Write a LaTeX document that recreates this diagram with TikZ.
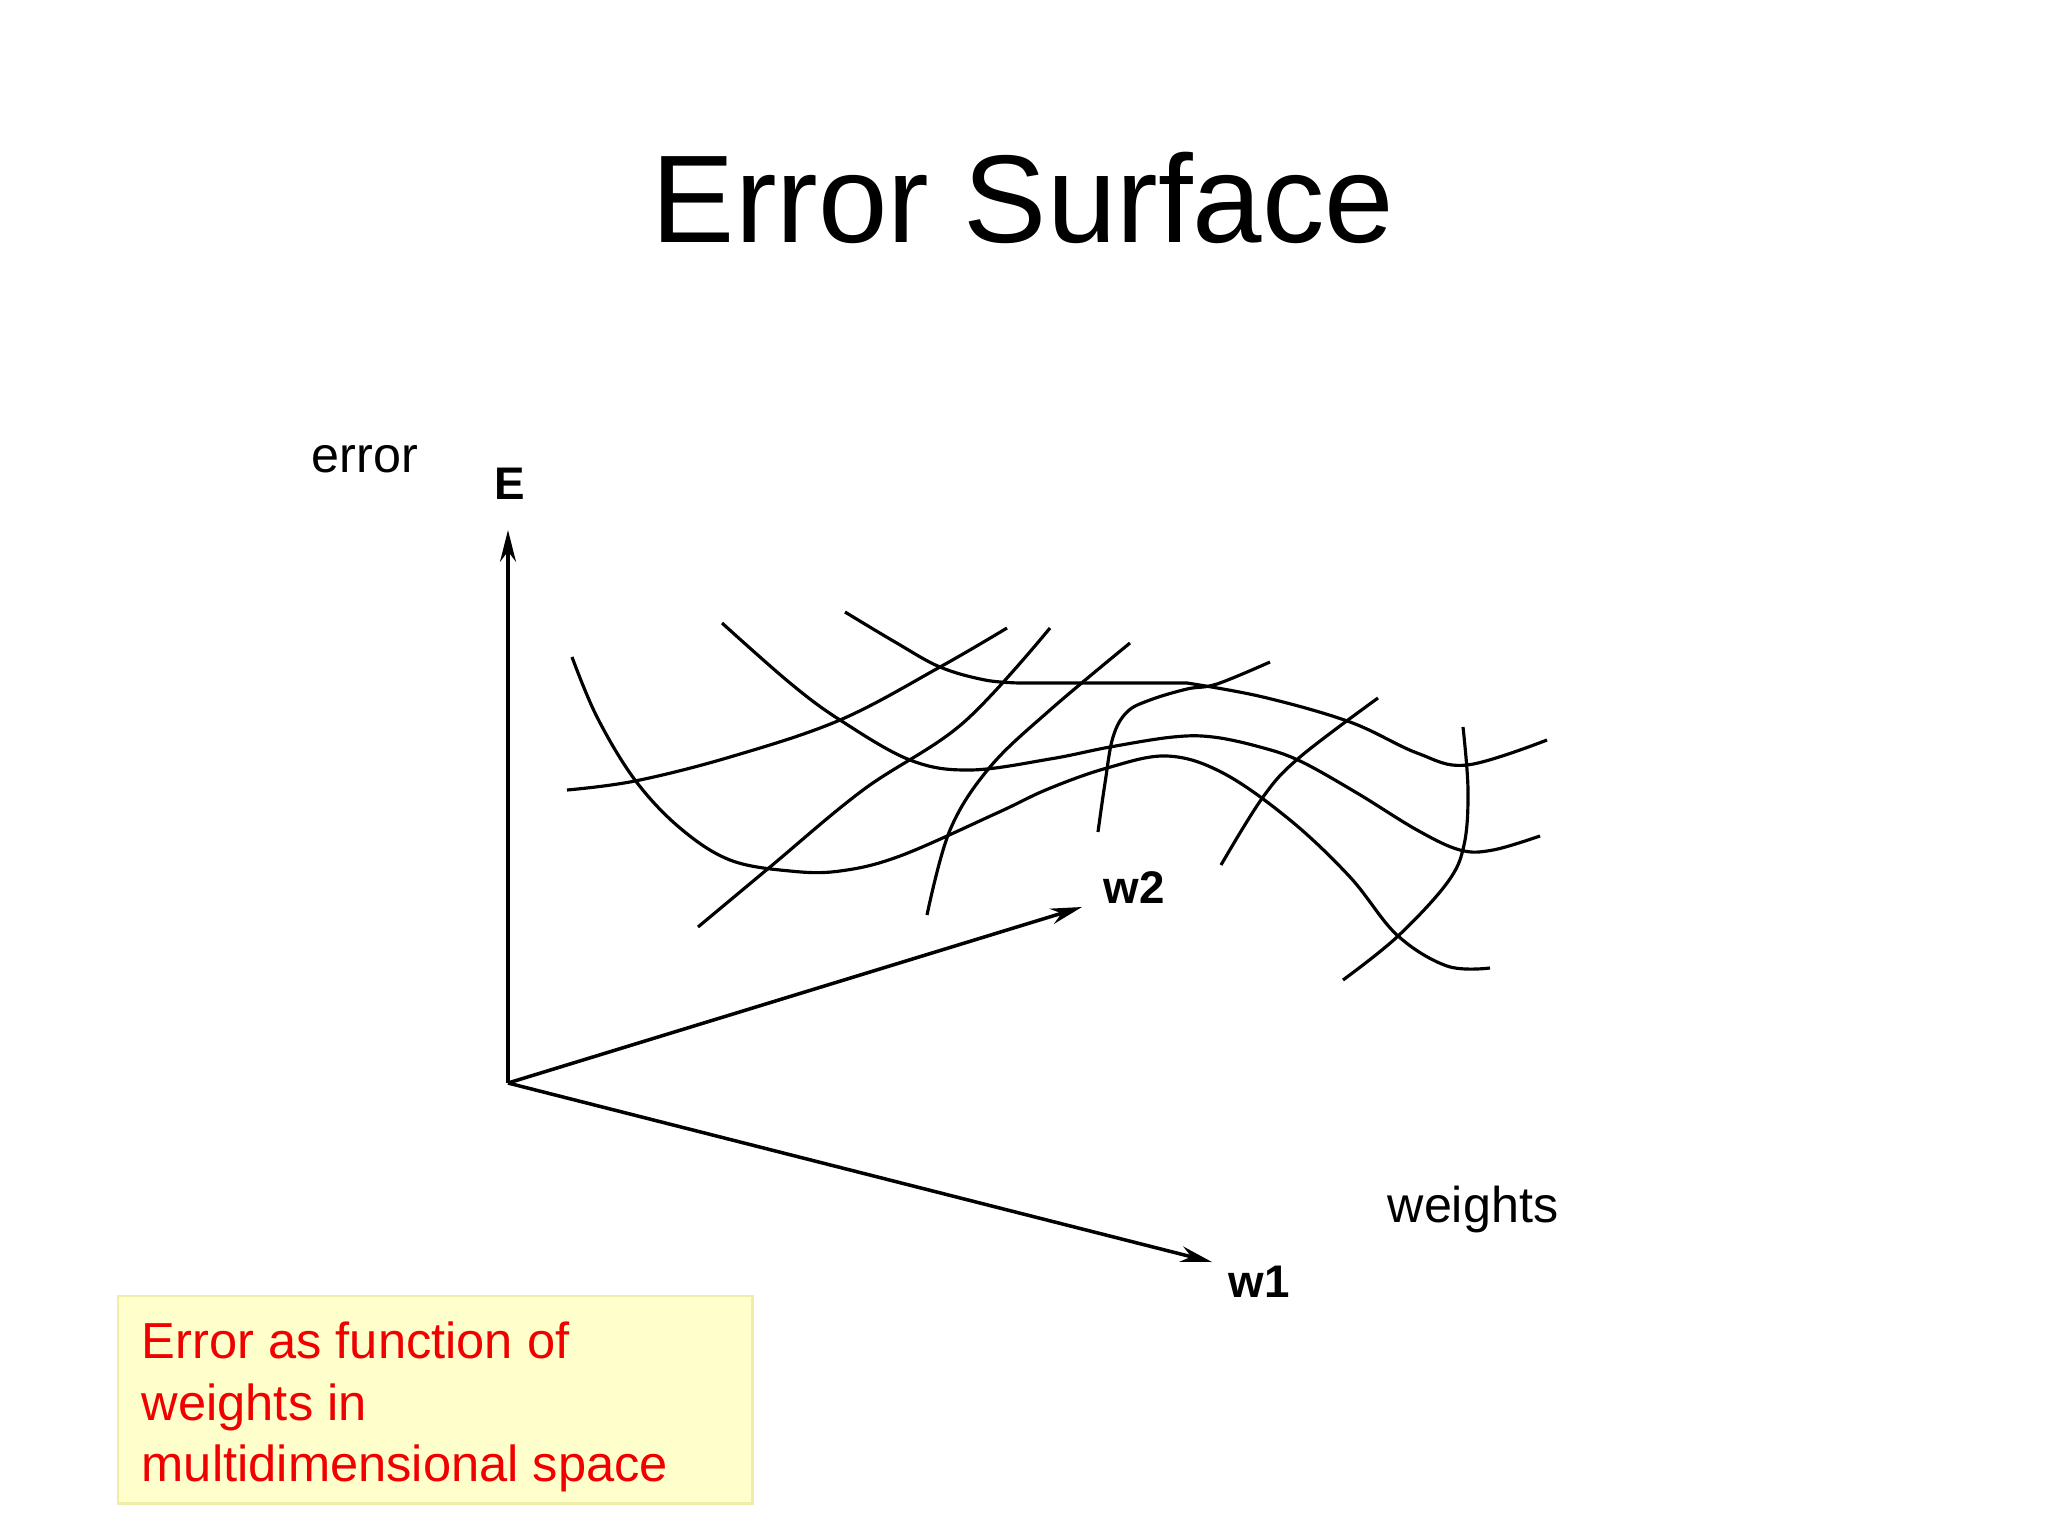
\documentclass[tikz,border=0pt]{standalone}
\usepackage{fontspec}
\setmainfont{Liberation Sans}
\usetikzlibrary{arrows.meta}
\definecolor{boxfill}{HTML}{FFFFCC}
\definecolor{boxline}{HTML}{EEEEA8}
\definecolor{redtext}{HTML}{F00000}
\tikzset{
  surf/.style={line width=0.9pt, black, line join=round},
  axis/.style={line width=1pt, black, -{Stealth[length=9pt,width=4.5pt]}},
  axlabel/.style={font=\fontsize{13}{15}\selectfont\bfseries, anchor=base, inner sep=0pt},
  plain/.style={font=\fontsize{14.3}{17}\selectfont, anchor=base west, inner sep=0pt},
  redline/.style={font=\fontsize{14.4}{17}\selectfont, text=redtext, anchor=base west, inner sep=0pt}
}
\begin{document}
\begin{tikzpicture}[x=0.01cm,y=-0.01cm]
\useasboundingbox[fill=white] (0,0) rectangle (2048,1536);
% title
\node[font=\fontsize{35.5}{40}\selectfont, anchor=base, inner sep=0pt] (title) at (1023,242) {Error Surface};
% labels
\node[plain] (errlbl) at (311,472) {error};
\node[plain] (wlbl) at (1387,1222) {weights};
% axes
\coordinate (O) at (508,1083);
\coordinate (Etip) at (508,530);
\coordinate (w2tip) at (1082,907);
\coordinate (w1tip) at (1212,1262);
\draw[axis, line width=1.2pt] (O) -- (Etip);
\draw[axis] (O) -- (w2tip);
\draw[axis] (O) -- (w1tip);
\node[axlabel] (Elbl) at (510,499) {E};
\node[axlabel] (w2lbl) at (1134,903) {w2};
\node[axlabel] (w1lbl) at (1259,1297) {w1};
% surface curves
% A
\draw[surf] plot[smooth, tension=0.6] coordinates {(572,657) (597,717) (635,780) (680,828) (730,860) (790,871) (840,871) (900,856) (997,813) (1048,789) (1107,768) (1167,756) (1223,773) (1290,820) (1350,877) (1397,935) (1447,966) (1490,968)};
% B
\draw[surf] plot[smooth, tension=0.6] coordinates {(567,790) (635,781) (730,757) (840,720) (940,667) (1007,628)};
% C
\draw[surf] plot[smooth, tension=0.6] coordinates {(722,623) (790,683) (840,720) (910,760) (970,770) (1050,759) (1110,747) (1173,737) (1213,737) (1260,747) (1300,761) (1357,793) (1417,830) (1460,850) (1493,850) (1540,836)};
% D
\draw[surf] plot[smooth, tension=0.6] coordinates {(845,612) (895,642) (940,667) (985,680) (1020,683)} -- (1187,683);
\draw[surf] plot[smooth, tension=0.6] coordinates {(1187,683) (1263,697) (1350,722) (1417,753) (1467,765) (1547,740)};
% E
\draw[surf] plot[smooth, tension=0.6] coordinates {(1270,662) (1217,684) (1187,689) (1150,700) (1127,712) (1113,737) (1105,783) (1098,832)};
% F
\draw[surf] plot[smooth, tension=0.6] coordinates {(1130,643) (1050,710) (990,767) (950,830) (927,915)};
% H1
\draw[surf] plot[smooth, tension=0.6] coordinates {(1050,628) (963,723) (863,790) (770,867) (698,927)};
% I
\draw[surf] plot[smooth, tension=0.6] coordinates {(1378,698) (1300,757) (1263,797) (1221,865)};
% J
\draw[surf] plot[smooth, tension=0.6] coordinates {(1463,727) (1468,790) (1464,845) (1447,883) (1397,937) (1343,980)};
% red box
\node[draw=boxline, fill=boxfill, line width=0.8pt, minimum width=6.34cm, minimum height=2.07cm, inner sep=0pt, outer sep=0pt, anchor=north west] (box) at (118,1296) {};
\node[redline] (r1) at (141,1358) {Error as function of};
\node[redline] (r2) at (141,1420) {weights in};
\node[redline] (r3) at (141,1481) {multidimensional space};
\end{tikzpicture}
\end{document}
